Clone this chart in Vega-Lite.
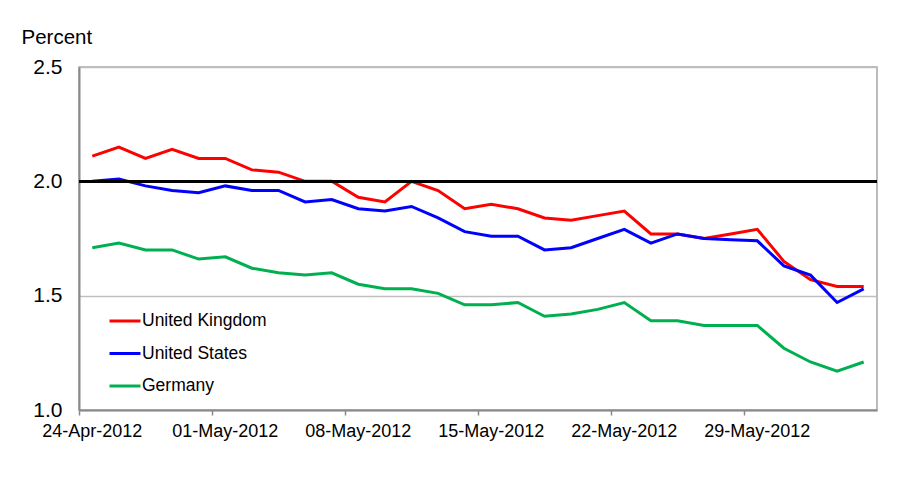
{
  "$schema": "https://vega.github.io/schema/vega-lite/v6.json",
  "autosize": "none",
  "width": 798,
  "height": 343,
  "padding": {"left": 79, "top": 67, "right": 43, "bottom": 71},
  "background": "white",
  "config": {
    "font": "Liberation Sans",
    "view": {"stroke": "#A6A6A6", "strokeWidth": 1.5},
    "axis": {"labelFont": "Liberation Sans", "titleFont": "Liberation Sans", "labelColor": "#000000", "titleColor": "#000000"}
  },
  "data": {
    "values": [
      {"date": "24-Apr-2012", "United Kingdom": 2.11, "United States": 2.00, "Germany": 1.71},
      {"date": "25-Apr-2012", "United Kingdom": 2.15, "United States": 2.01, "Germany": 1.73},
      {"date": "26-Apr-2012", "United Kingdom": 2.10, "United States": 1.98, "Germany": 1.70},
      {"date": "27-Apr-2012", "United Kingdom": 2.14, "United States": 1.96, "Germany": 1.70},
      {"date": "30-Apr-2012", "United Kingdom": 2.10, "United States": 1.95, "Germany": 1.66},
      {"date": "01-May-2012", "United Kingdom": 2.10, "United States": 1.98, "Germany": 1.67},
      {"date": "02-May-2012", "United Kingdom": 2.05, "United States": 1.96, "Germany": 1.62},
      {"date": "03-May-2012", "United Kingdom": 2.04, "United States": 1.96, "Germany": 1.60},
      {"date": "04-May-2012", "United Kingdom": 2.00, "United States": 1.91, "Germany": 1.59},
      {"date": "07-May-2012", "United Kingdom": 2.00, "United States": 1.92, "Germany": 1.60},
      {"date": "08-May-2012", "United Kingdom": 1.93, "United States": 1.88, "Germany": 1.55},
      {"date": "09-May-2012", "United Kingdom": 1.91, "United States": 1.87, "Germany": 1.53},
      {"date": "10-May-2012", "United Kingdom": 2.00, "United States": 1.89, "Germany": 1.53},
      {"date": "11-May-2012", "United Kingdom": 1.96, "United States": 1.84, "Germany": 1.51},
      {"date": "14-May-2012", "United Kingdom": 1.88, "United States": 1.78, "Germany": 1.46},
      {"date": "15-May-2012", "United Kingdom": 1.90, "United States": 1.76, "Germany": 1.46},
      {"date": "16-May-2012", "United Kingdom": 1.88, "United States": 1.76, "Germany": 1.47},
      {"date": "17-May-2012", "United Kingdom": 1.84, "United States": 1.70, "Germany": 1.41},
      {"date": "18-May-2012", "United Kingdom": 1.83, "United States": 1.71, "Germany": 1.42},
      {"date": "21-May-2012", "United Kingdom": 1.85, "United States": 1.75, "Germany": 1.44},
      {"date": "22-May-2012", "United Kingdom": 1.87, "United States": 1.79, "Germany": 1.47},
      {"date": "23-May-2012", "United Kingdom": 1.77, "United States": 1.73, "Germany": 1.39},
      {"date": "24-May-2012", "United Kingdom": 1.77, "United States": 1.77, "Germany": 1.39},
      {"date": "25-May-2012", "United Kingdom": 1.75, "United States": 1.75, "Germany": 1.37},
      {"date": "28-May-2012", "United Kingdom": 1.77, "United States": 1.745, "Germany": 1.37},
      {"date": "29-May-2012", "United Kingdom": 1.79, "United States": 1.74, "Germany": 1.37},
      {"date": "30-May-2012", "United Kingdom": 1.65, "United States": 1.63, "Germany": 1.27},
      {"date": "31-May-2012", "United Kingdom": 1.57, "United States": 1.59, "Germany": 1.21},
      {"date": "01-Jun-2012", "United Kingdom": 1.54, "United States": 1.47, "Germany": 1.17},
      {"date": "04-Jun-2012", "United Kingdom": 1.54, "United States": 1.53, "Germany": 1.21}
    ]
  },
  "layer": [
    {
      "transform": [{"fold": ["United Kingdom", "United States", "Germany"], "as": ["country", "value"]}],
      "mark": {"type": "line", "strokeWidth": 3, "strokeJoin": "miter"},
      "encoding": {
        "x": {
          "field": "date", "type": "ordinal", "sort": null, "bandPosition": 0.5,
          "scale": {"type": "band", "paddingInner": 0, "paddingOuter": 0},
          "axis": {
            "title": null,
            "values": ["24-Apr-2012", "01-May-2012", "08-May-2012", "15-May-2012", "22-May-2012", "29-May-2012"],
            "bandPosition": 0,
            "labelAngle": 0,
            "labelFontSize": 18,
            "labelPadding": 7,
            "tickSize": 5,
            "tickColor": "#898989",
            "tickWidth": 1.5,
            "domainColor": "#898989",
            "domainWidth": 2,
            "grid": false
          }
        },
        "y": {
          "field": "value", "type": "quantitative",
          "scale": {"domain": [1, 2.5], "nice": false, "zero": false},
          "axis": {
            "values": [1, 1.5, 2, 2.5],
            "format": ".1f",
            "title": "Percent",
            "titleAngle": 0,
            "titleAlign": "left",
            "titleBaseline": "alphabetic",
            "titleFontSize": 20.5,
            "titleFontWeight": "normal",
            "titleX": -58,
            "titleY": -24,
            "labelFontSize": 21,
            "labelPadding": 17,
            "ticks": false,
            "tickSize": 0,
            "domainColor": "#898989",
            "domainWidth": 2,
            "grid": true,
            "gridColor": "#BFBFBF",
            "gridWidth": 1.5
          }
        },
        "color": {
          "field": "country", "type": "nominal",
          "scale": {"domain": ["United Kingdom", "United States", "Germany"], "range": ["#FF0000", "#0000FF", "#00B050"]},
          "legend": {
            "title": null,
            "orient": "none",
            "legendX": 29,
            "legendY": 237,
            "padding": 0,
            "symbolType": "stroke",
            "symbolSize": 961,
            "symbolStrokeWidth": 3,
            "labelFont": "Liberation Sans",
            "labelFontSize": 17.5,
            "labelColor": "#000000",
            "labelOffset": 0,
            "rowPadding": 6.5
          }
        }
      }
    },
    {
      "mark": {"type": "rule", "color": "#000000", "strokeWidth": 2},
      "encoding": {"y": {"datum": 2}}
    }
  ]
}
